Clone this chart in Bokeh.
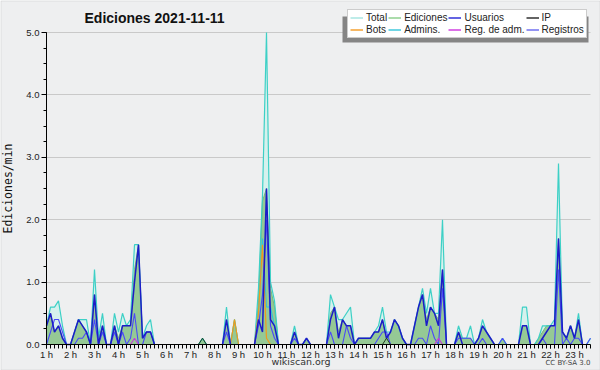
import numpy as np
from bokeh.plotting import figure
from bokeh.models import (Range1d, FixedTicker, SingleIntervalTicker, CustomJSTickFormatter,
                          PrintfTickFormatter, Label, Legend, LegendItem, BoxAnnotation)
from bokeh.embed import file_html
from bokeh.resources import INLINE

# ---- data: edits per minute, 10-minute bins starting at "1 h" ----
START_HOUR = 1
STEP_MIN = 10
HOUR_TICKS = list(range(1, 24))

total = [
    0.3, 0.6, 0.6, 0.7, 0.3, 0.0,
    0.0, 0.2, 0.4, 0.4, 0.4, 0.0,
    1.2, 0.1, 0.5, 0.0, 0.0, 0.5,
    0.2, 0.5, 0.3, 0.4, 1.6, 1.6,
    0.1, 0.3, 0.4, 0.0, 0.0, 0.0,
    0.0, 0.0, 0.0, 0.0, 0.0, 0.0,
    0.0, 0.0, 0.0, 0.1, 0.0, 0.0,
    0.0, 0.0, 0.0, 0.6, 0.0, 0.4,
    0.0, 0.0, 0.0, 0.0, 0.0, 0.9,
    2.4, 5.0, 1.0, 0.7, 0.0, 0.0,
    0.0, 0.0, 0.3, 0.0, 0.0, 0.1,
    0.0, 0.0, 0.0, 0.0, 0.0, 0.8,
    0.6, 0.4, 0.4, 0.5, 0.6, 0.0,
    0.1, 0.1, 0.1, 0.1, 0.2, 0.3,
    0.6, 0.2, 0.2, 0.4, 0.3, 0.1,
    0.0, 0.0, 0.3, 0.6, 0.9, 0.5,
    0.9, 0.5, 0.5, 2.0, 0.0, 0.0,
    0.0, 0.3, 0.1, 0.1, 0.3, 0.0,
    0.1, 0.4, 0.2, 0.1, 0.0, 0.0,
    0.1, 0.0, 0.0, 0.0, 0.0, 0.6,
    0.6, 0.0, 0.0, 0.1, 0.3, 0.3,
    0.3, 0.4, 2.9, 0.2, 0.1, 0.3,
    0.1, 0.5, 0.0, 0.0, 0.1,
]

ediciones = [
    0.3, 0.5, 0.2, 0.3, 0.1, 0.0,
    0.0, 0.2, 0.4, 0.3, 0.2, 0.0,
    0.8, 0.1, 0.3, 0.0, 0.0, 0.3,
    0.1, 0.3, 0.3, 0.3, 1.2, 1.6,
    0.1, 0.2, 0.2, 0.0, 0.0, 0.0,
    0.0, 0.0, 0.0, 0.0, 0.0, 0.0,
    0.0, 0.0, 0.0, 0.1, 0.0, 0.0,
    0.0, 0.0, 0.0, 0.4, 0.0, 0.4,
    0.0, 0.0, 0.0, 0.0, 0.0, 0.7,
    2.3, 2.5, 0.9, 0.6, 0.0, 0.0,
    0.0, 0.0, 0.2, 0.0, 0.0, 0.1,
    0.0, 0.0, 0.0, 0.0, 0.0, 0.5,
    0.6, 0.2, 0.4, 0.3, 0.3, 0.0,
    0.1, 0.1, 0.1, 0.1, 0.2, 0.2,
    0.4, 0.1, 0.2, 0.4, 0.3, 0.1,
    0.0, 0.0, 0.3, 0.6, 0.8, 0.4,
    0.6, 0.5, 0.4, 1.2, 0.0, 0.0,
    0.0, 0.2, 0.1, 0.1, 0.1, 0.0,
    0.1, 0.3, 0.2, 0.1, 0.0, 0.0,
    0.1, 0.0, 0.0, 0.0, 0.0, 0.3,
    0.3, 0.0, 0.0, 0.1, 0.2, 0.3,
    0.3, 0.3, 1.7, 0.2, 0.1, 0.3,
    0.1, 0.4, 0.0, 0.0, 0.0,
]

usuarios = [
    0.3, 0.5, 0.2, 0.3, 0.1, 0.0,
    0.0, 0.2, 0.4, 0.3, 0.2, 0.0,
    0.8, 0.0, 0.3, 0.0, 0.0, 0.3,
    0.0, 0.3, 0.3, 0.3, 1.0, 1.6,
    0.1, 0.2, 0.2, 0.0, 0.0, 0.0,
    0.0, 0.0, 0.0, 0.0, 0.0, 0.0,
    0.0, 0.0, 0.0, 0.0, 0.0, 0.0,
    0.0, 0.0, 0.0, 0.4, 0.0, 0.0,
    0.0, 0.0, 0.0, 0.0, 0.0, 0.4,
    0.2, 2.5, 0.4, 0.3, 0.0, 0.0,
    0.0, 0.0, 0.2, 0.0, 0.0, 0.1,
    0.0, 0.0, 0.0, 0.0, 0.0, 0.4,
    0.6, 0.1, 0.4, 0.3, 0.3, 0.0,
    0.1, 0.1, 0.1, 0.1, 0.2, 0.2,
    0.4, 0.1, 0.2, 0.4, 0.3, 0.1,
    0.0, 0.0, 0.3, 0.6, 0.8, 0.3,
    0.6, 0.5, 0.3, 1.2, 0.0, 0.0,
    0.0, 0.2, 0.0, 0.0, 0.0, 0.0,
    0.1, 0.3, 0.2, 0.1, 0.0, 0.0,
    0.0, 0.0, 0.0, 0.0, 0.0, 0.3,
    0.3, 0.0, 0.0, 0.0, 0.1, 0.2,
    0.3, 0.3, 1.7, 0.2, 0.1, 0.3,
    0.1, 0.4, 0.0, 0.0, 0.0,
]

registros = [
    0.0, 0.2, 0.4, 0.4, 0.2, 0.0,
    0.0, 0.0, 0.1, 0.1, 0.2, 0.0,
    0.4, 0.0, 0.2, 0.0, 0.0, 0.2,
    0.0, 0.2, 0.0, 0.1, 0.5, 0.0,
    0.0, 0.2, 0.2, 0.0, 0.0, 0.0,
    0.0, 0.0, 0.0, 0.0, 0.0, 0.0,
    0.0, 0.0, 0.0, 0.0, 0.0, 0.0,
    0.0, 0.0, 0.0, 0.2, 0.0, 0.0,
    0.0, 0.0, 0.0, 0.0, 0.0, 0.3,
    0.8, 2.0, 0.3, 0.1, 0.0, 0.0,
    0.0, 0.0, 0.1, 0.0, 0.0, 0.0,
    0.0, 0.0, 0.0, 0.0, 0.0, 0.2,
    0.0, 0.0, 0.0, 0.3, 0.1, 0.0,
    0.0, 0.0, 0.0, 0.0, 0.0, 0.1,
    0.2, 0.2, 0.0, 0.0, 0.0, 0.0,
    0.0, 0.0, 0.0, 0.1, 0.1, 0.0,
    0.3, 0.1, 0.0, 0.9, 0.0, 0.0,
    0.0, 0.1, 0.1, 0.1, 0.1, 0.0,
    0.0, 0.1, 0.0, 0.0, 0.0, 0.0,
    0.1, 0.0, 0.0, 0.0, 0.0, 0.0,
    0.0, 0.0, 0.0, 0.0, 0.1, 0.0,
    0.0, 0.0, 1.2, 0.0, 0.1, 0.0,
    0.1, 0.1, 0.0, 0.0, 0.1,
]

# sparse series: {bin index: value}
ip_points = {39: 0.1, 85: 0.1}
bots_points = {47: 0.4, 53: 0.5, 54: 1.6, 55: 0.1}
admins_points = {53: 0.5, 54: 1.7, 55: 0.6, 56: 0.6, 57: 0.3}
reg_adm_points = {22: 0.1, 98: 0.1}

legend_labels = ["Total", "Ediciones", "Usuarios", "IP",
                 "Bots", "Admins.", "Reg. de adm.", "Registros"]

title_text = "Ediciones  2021-11-11"
y_label = "Ediciones/min"
Y_MAX = 5.0

# ---- helpers ----
n = len(total)
x = [START_HOUR + i * STEP_MIN / 60.0 for i in range(n)]


def dense(points):
    return [points.get(i, 0.0) for i in range(n)]


def trim(vals):
    out = []
    for i, v in enumerate(vals):
        prv = vals[i - 1] if i > 0 else 0.0
        nxt = vals[i + 1] if i < len(vals) - 1 else 0.0
        out.append(np.nan if (v == 0 and prv == 0 and nxt == 0) else v)
    return out


# ---- layout geometry (pixels); the frame covers the whole canvas ----
W, H = 600, 370
AXIS_X = 46        # pixel column of the y axis (START_HOUR)
Y0_PX = 344        # pixel row of value 0
YMAX_PX = 32       # pixel row of Y_MAX
PX_PER_HOUR = 24.0
px_per_unit = (Y0_PX - YMAX_PX) / Y_MAX

BG = "#eeeff0"
p = figure(width=W, height=H, output_backend="svg", toolbar_location=None,
           x_range=Range1d(START_HOUR - AXIS_X / PX_PER_HOUR,
                           START_HOUR + (W - AXIS_X) / PX_PER_HOUR),
           y_range=Range1d(-(H - Y0_PX) / px_per_unit, Y_MAX + YMAX_PX / px_per_unit),
           min_border_left=0, min_border_right=0, min_border_top=0, min_border_bottom=0,
           background_fill_color=BG, border_fill_color=BG, outline_line_color=None)
p.title.visible = False

# grid
p.xgrid.visible = False
p.ygrid.grid_line_color = "#c9c9c9"
p.ygrid.ticker = FixedTicker(ticks=[1, 2, 3, 4, 5])
if "cross_bounds" in p.ygrid[0].properties():
    p.ygrid.cross_bounds = (START_HOUR, x[-1])
else:
    p.add_layout(BoxAnnotation(right=START_HOUR, fill_color=BG, fill_alpha=1,
                               line_alpha=0, level="underlay"))

# areas
p.varea(x=x, y1=0, y2=total, fill_color="#d6f1ed", fill_alpha=1.0)
p.varea(x=x, y1=0, y2=ediciones, fill_color="#95c995", fill_alpha=1.0)
p.line(x, trim(ediciones), line_color="#79b879", line_width=1)

# lines
p.line(x, trim(total), line_color="#3dd0c6", line_width=1.2)
p.line(x, trim(dense(admins_points)), line_color="#2fc3dc", line_width=1.1)
p.line(x, trim(dense(bots_points)), line_color="#f09a1e", line_width=1.2)
p.line(x, trim(registros), line_color="#4a4af8", line_width=1.1)
p.line(x, trim(usuarios), line_color="#1c1cc8", line_width=1.5)
p.line(x, trim(dense(ip_points)), line_color="#1e3a1e", line_width=1)
p.line(x, trim(dense(reg_adm_points)), line_color="#c83ad8", line_width=1.1)

# axes, pinned at data positions
p.xaxis.fixed_location = 0
p.xaxis.bounds = (START_HOUR, x[-1])
p.xaxis.ticker = FixedTicker(ticks=HOUR_TICKS,
                             minor_ticks=[START_HOUR + k / 6 for k in range(0, n)])
p.xaxis.formatter = CustomJSTickFormatter(code="return tick.toFixed(0) + ' h'")
p.yaxis.fixed_location = START_HOUR
p.yaxis.bounds = (0, Y_MAX)
p.yaxis.ticker = SingleIntervalTicker(interval=1, num_minor_ticks=4)
p.yaxis.formatter = PrintfTickFormatter(format="%.1f")
p.yaxis.axis_label = y_label
p.yaxis.axis_label_text_font = "DejaVu Sans Mono"
p.yaxis.axis_label_text_font_size = "11.5px"
p.yaxis.axis_label_text_font_style = "normal"
p.yaxis.axis_label_text_color = "#111111"
p.yaxis.axis_label_standoff = 8

for ax in (p.xaxis[0], p.yaxis[0]):
    ax.axis_line_color = "black"
    ax.major_tick_line_color = "black"
    ax.minor_tick_line_color = "black"
    ax.major_tick_in = 0
    ax.minor_tick_in = 0
    ax.major_label_text_font = "Liberation Sans"
    ax.major_label_text_font_size = "9.5px"
    ax.major_label_text_color = "#222222"

p.xaxis.major_tick_out = 4
p.xaxis.minor_tick_out = 4
p.xaxis.major_label_standoff = 0
p.yaxis.major_tick_out = 5
p.yaxis.minor_tick_out = 3
p.yaxis.major_label_standoff = 2

# thin frame around the whole picture
p.add_layout(BoxAnnotation(left=0.5, right=W - 0.5, top=H - 0.5, bottom=0.5,
                           left_units="screen", right_units="screen",
                           top_units="screen", bottom_units="screen",
                           fill_alpha=0, line_color="#b4b4b4", line_width=1))

# legend with a drop shadow box behind it
LEG_LEFT, LEG_BOTTOM, LEG_TOP, LEG_RIGHT = 347, 38, 12, 593
p.add_layout(BoxAnnotation(left=LEG_LEFT - 5, right=LEG_RIGHT - 5,
                           top=H - (LEG_TOP + 4), bottom=H - (LEG_BOTTOM + 4),
                           left_units="screen", right_units="screen",
                           top_units="screen", bottom_units="screen",
                           fill_color="#858585", fill_alpha=1.0, line_alpha=0))

legend_colors = ["#a8e6e2", "#8fd08f", "#3030d8", "#303030",
                 "#f5a030", "#40c8dc", "#d040e0", "#7070f0"]
items = []
for lab, col in zip(legend_labels, legend_colors):
    r = p.line([np.nan], [np.nan], line_color=col, line_width=1.5)
    items.append(LegendItem(label=lab, renderers=[r]))

legend = Legend(items=items, location=(LEG_LEFT, H - LEG_BOTTOM),
                orientation="horizontal", ncols=4,
                glyph_width=13, glyph_height=9, label_height=9, label_standoff=3,
                spacing=1, padding=2, margin=0,
                label_text_font="Liberation Sans", label_text_font_size="10px",
                label_text_line_height=1.0, label_text_color="#222222",
                border_line_color="#9a9a9a",
                background_fill_color="white", background_fill_alpha=1.0)
p.add_layout(legend, "center")

# texts (screen units relative to the frame's bottom-left corner)
p.add_layout(Label(x=84, y=H - 17, x_units="screen", y_units="screen", text=title_text,
                   text_font="Liberation Sans", text_font_style="bold", text_font_size="14px",
                   text_baseline="middle", text_align="left", text_color="#111111"))
p.add_layout(Label(x=300.5, y=H - 361, x_units="screen", y_units="screen",
                   text="wikiscan.org", text_font="DejaVu Sans", text_font_size="9.5px",
                   text_baseline="middle", text_align="center", text_color="#333333"))
p.add_layout(Label(x=590, y=H - 362, x_units="screen", y_units="screen",
                   text="CC BY-SA 3.0", text_font="DejaVu Sans", text_font_size="7px",
                   text_baseline="middle", text_align="right", text_color="#444444"))

open("out.html", "w").write(file_html(p, INLINE))
